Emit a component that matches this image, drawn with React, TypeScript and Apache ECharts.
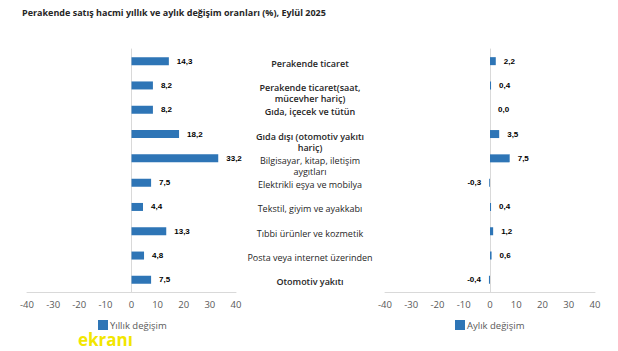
import React, { useEffect, useRef } from "react";
import * as echarts from "echarts";

const categories = [
  "Perakende ticaret",
  "Perakende ticaret(saat,\nmücevher hariç)",
  "Gıda, içecek ve tütün",
  "Gıda dışı (otomotiv yakıtı\nhariç)",
  "Bilgisayar, kitap, iletişim\naygıtları",
  "Elektrikli eşya ve mobilya",
  "Tekstil, giyim ve ayakkabı",
  "Tıbbi ürünler ve kozmetik",
  "Posta veya internet üzerinden",
  "Otomotiv yakıtı",
];
const boldCategory = [true, true, true, true, false, false, false, false, false, true];
const yearlyChange = [14.3, 8.2, 8.2, 18.2, 33.2, 7.5, 4.4, 13.3, 4.8, 7.5];
const monthlyChange = [2.2, 0.4, 0.0, 3.5, 7.5, -0.3, 0.4, 1.2, 0.6, -0.4];
const seriesNames = ["Yıllık değişim", "Aylık değişim"];
const titleText = "Perakende satış hacmi yıllık ve aylık değişim oranları (%), Eylül 2025";

const BAR = "#2e75b6";
const AXIS = "#d9d9d9";
const GREY = "#595959";
const FONT = "'Open Sans', 'Noto Sans', sans-serif";

const fmt = (v: number) => v.toFixed(1).replace(".", ",");

const makeData = (arr: number[]) =>
  arr.map((v) => ({
    value: v,
    label: { position: v < 0 ? "left" : "right" },
  }));

export default function App() {
  const ref = useRef<HTMLDivElement>(null);
  useEffect(() => {
    document.body.style.margin = "0";
    const chart = echarts.init(ref.current!, null, { renderer: "svg" });
    const xAxisBase = (gridIndex: number) => ({
      type: "value",
      gridIndex,
      min: -40,
      max: 40,
      interval: 10,
      axisLine: { show: true, lineStyle: { color: AXIS, width: 1 } },
      axisTick: { show: false },
      splitLine: { show: false },
      axisLabel: { color: GREY, fontSize: 9.5, fontFamily: FONT, margin: 7 },
    });
    const yAxisBase = (gridIndex: number) => ({
      type: "category",
      gridIndex,
      inverse: true,
      data: categories,
      axisLine: { show: true, onZero: true, lineStyle: { color: AXIS } },
      axisTick: { show: false },
      axisLabel: { show: false },
      splitLine: { show: false },
    });
    const seriesBase = (name: string, idx: number, arr: number[]) => ({
      type: "bar",
      name,
      xAxisIndex: idx,
      yAxisIndex: idx,
      barWidth: 8,
      itemStyle: { color: BAR },
      data: makeData(arr),
      label: {
        show: true,
        distance: 8,
        color: "#000",
        fontSize: 8,
        fontWeight: "bold",
        fontFamily: "'Liberation Sans', Arial, sans-serif",
        formatter: (p: any) => fmt(p.value),
      },
    });
    const legendBase = (name: string, left: number) => ({
      data: [name],
      left,
      top: 320,
      padding: 0,
      itemWidth: 10,
      itemHeight: 10,
      icon: "rect",
      textStyle: { color: GREY, fontSize: 9.5, fontFamily: FONT, padding: [0, 0, 0, -3] },
    });
    chart.setOption({
      animation: false,
      title: {
        text: titleText,
        left: 17,
        top: 3,
        textStyle: { fontSize: 9, fontWeight: "bold", color: "#262626", fontFamily: FONT },
      },
      grid: [
        { left: 27, top: 49, width: 209, height: 243 },
        { left: 385, top: 49, width: 210, height: 243 },
      ],
      xAxis: [xAxisBase(0), xAxisBase(1)],
      yAxis: [yAxisBase(0), yAxisBase(1)],
      legend: [legendBase(seriesNames[0], 98), legendBase(seriesNames[1], 455)],
      series: [
        seriesBase(seriesNames[0], 0, yearlyChange),
        seriesBase(seriesNames[1], 1, monthlyChange),
      ],
    });
    const labels: any[] = [];
    categories.forEach((c, i) => {
      const py = chart.convertToPixel({ yAxisIndex: 0 } as any, i) as unknown as number;
      c.split("\n").forEach((line, k) => {
        labels.push({
          type: "text",
          x: 310,
          y: py + 2 + k * 11.5,
          style: {
            text: line,
            fill: "#262626",
            font: `${boldCategory[i] ? "600 " : ""}9px ${FONT}`,
            textAlign: "center",
            textVerticalAlign: "middle",
          },
        });
      });
    });
    chart.setOption({
      graphic: [
        ...labels,
        {
          type: "text",
          x: 78,
          y: 331,
          style: {
            text: "ekranı",
            fill: "#f2e600",
            font: `bold 17px ${FONT}`,
          },
        },
      ],
    });
    return () => chart.dispose();
  }, []);
  return (
    <div
      ref={ref}
      style={{ position: "fixed", left: 0, top: 0, width: 618, height: 351, background: "#fff" }}
    />
  );
}
